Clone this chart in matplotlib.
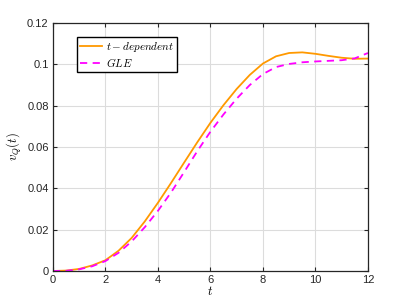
import numpy as np
import matplotlib.pyplot as plt

plt.rcParams['font.family'] = ['Liberation Sans', 'DejaVu Sans']
plt.rcParams['mathtext.fontset'] = 'cm'

t = [0, 0.5, 1, 1.5, 2, 2.5, 3, 3.5, 4, 4.5, 5, 5.5, 6, 6.5, 7, 7.5, 8, 8.5,
     9, 9.5, 10, 10.5, 11, 11.5, 12]
v_tdep = [0, 0.0002, 0.0010, 0.0027, 0.0052, 0.0098, 0.0160, 0.0240, 0.0330,
          0.0426, 0.0525, 0.0623, 0.0717, 0.0803, 0.0881, 0.0949, 0.1004,
          0.1039, 0.1055, 0.1058, 0.1051, 0.1041, 0.1032, 0.1027, 0.1028]
v_gle = [0, 0.0001, 0.0008, 0.0023, 0.0048, 0.0088, 0.0143, 0.0212, 0.0291,
         0.0380, 0.0479, 0.0580, 0.0674, 0.0758, 0.0834, 0.0900, 0.0953,
         0.0987, 0.1002, 0.1010, 0.1014, 0.1017, 0.1020, 0.1029, 0.1055]

fig = plt.figure(figsize=(4.07, 3.05), dpi=100)
ax = fig.add_axes([0.130, 0.1115, 0.774, 0.813])

ax.plot(t, v_tdep, color='#FF9900', lw=1.3, label=r'$t - dependent$')
ax.plot(t, v_gle, color='#FF00FF', lw=1.3, ls=(0, (4, 3)), label=r'$GLE$')

ax.set_xlim(0, 12)
ax.set_ylim(0, 0.12)
ax.set_xticks([0, 2, 4, 6, 8, 10, 12])
ax.set_yticks([0, 0.02, 0.04, 0.06, 0.08, 0.1, 0.12])
ax.set_yticklabels(['0', '0.02', '0.04', '0.06', '0.08', '0.1', '0.12'])
ax.grid(True, color='#DCDCDC', lw=0.8)
ax.set_axisbelow(True)
ax.tick_params(direction='in', length=3, width=0.8, labelsize=8,
               top=True, right=True, colors='#262626', pad=3)
for s in ax.spines.values():
    s.set_color('#262626')
    s.set_linewidth(0.9)

ax.set_xlabel(r'$t$', fontsize=9, labelpad=0)
ax.set_ylabel(r'$v_Q(t)$', fontsize=9, labelpad=2)

leg = ax.legend(loc='upper left', bbox_to_anchor=(0.078, 0.942), fontsize=8,
                fancybox=False, edgecolor='black', framealpha=1,
                handlelength=2.0, handletextpad=0.3, borderpad=0.25,
                labelspacing=0.15, borderaxespad=0)
leg.get_frame().set_linewidth(1.0)

fig.savefig('out.png', dpi=100)
